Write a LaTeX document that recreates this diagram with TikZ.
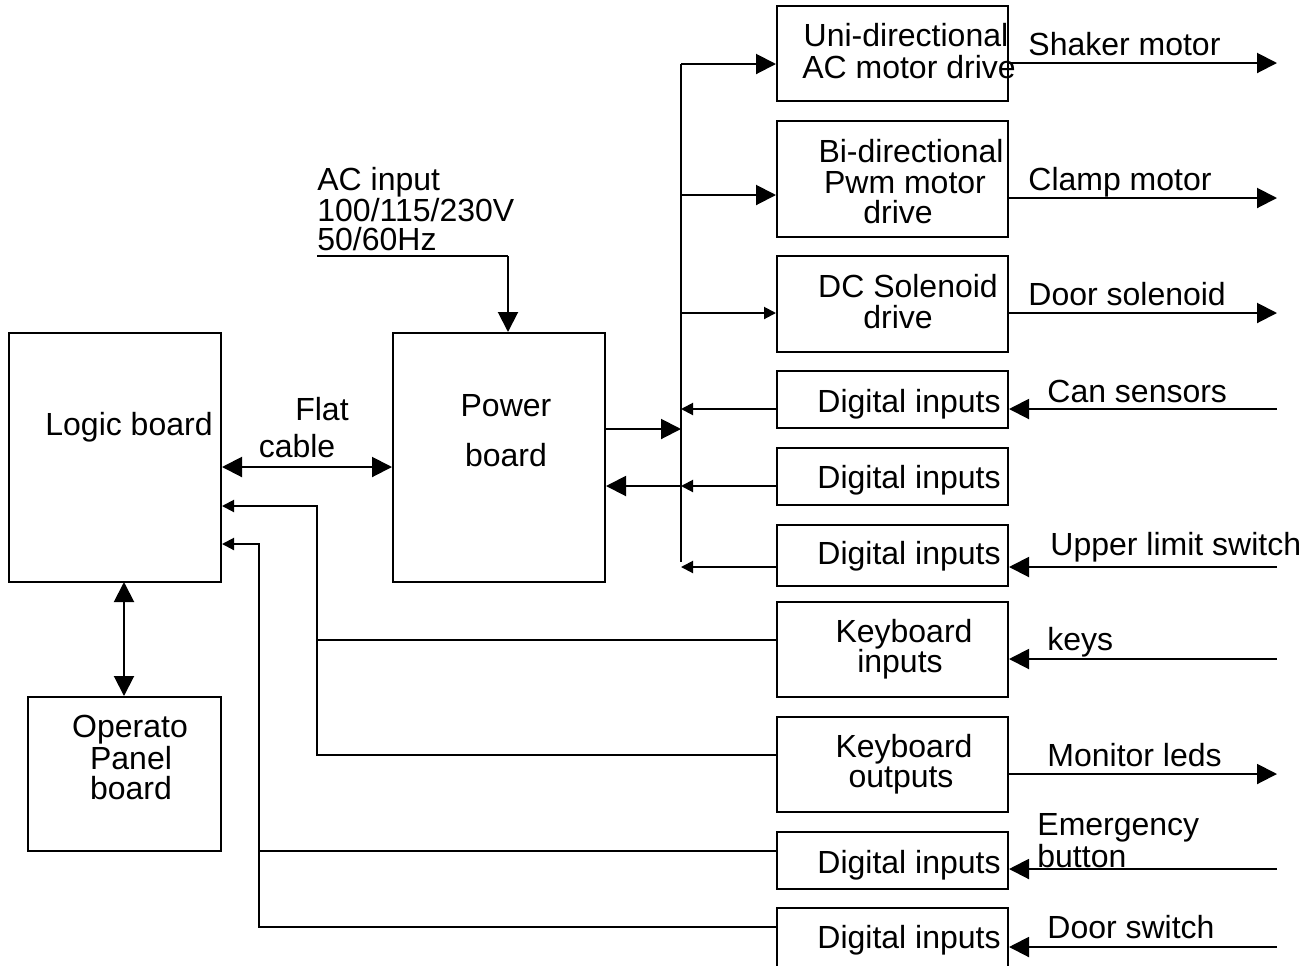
\documentclass[tikz,border=0pt]{standalone}
\usepackage{fontspec}
\setmainfont{Liberation Sans}
\usetikzlibrary{arrows.meta,fit}
\begin{document}
\begin{tikzpicture}[x=0.5pt,y=-0.5pt,
  box/.style={draw, line width=1pt, inner sep=0pt},
  txt/.style={inner sep=0pt, anchor=base, font=\fontsize{16}{18}\selectfont},
  ltxt/.style={txt, anchor=base west},
  wire/.style={line width=1pt},
  bigar/.style={wire, -{Triangle[length=10pt,width=10pt]}},
  smallar/.style={wire, -{Triangle[length=6pt,width=6pt]}},
  dblar/.style={wire, {Triangle[length=10pt,width=10pt]}-{Triangle[length=10pt,width=10pt]}}]
\path[fill=white, use as bounding box] (0,0) rectangle (1313,965);

% boxes
\node[box, fit={(9,333) (221,582)}] (logic) {};
\node[box, fit={(393,333) (605,582)}] (power) {};
\node[box, fit={(28,697) (221,851)}] (panel) {};
\node[box, fit={(777,6) (1008,101)}] (uni) {};
\node[box, fit={(777,121) (1008,237)}] (bi) {};
\node[box, fit={(777,256) (1008,352)}] (dcs) {};
\node[box, fit={(777,371) (1008,428)}] (dia) {};
\node[box, fit={(777,448) (1008,505)}] (dib) {};
\node[box, fit={(777,525) (1008,586)}] (dic) {};
\node[box, fit={(777,602) (1008,697)}] (kbi) {};
\node[box, fit={(777,717) (1008,812)}] (kbo) {};
\node[box, fit={(777,832) (1008,889)}] (did) {};
\node[box, fit={(777,908) (1008,985)}] (die) {};

% texts in boxes
\node[txt] (tlogic) at (129,435) {Logic board};
\node[txt] (tpow1) at (506,416) {Power};
\node[txt] (tpow2) at (506,466) {board};
\node[txt] (tpan1) at (130,737) {Operato};
\node[txt] (tpan2) at (131,769) {Panel};
\node[txt] (tpan3) at (131,799) {board};
\node[txt] (tuni1) at (906,46) {Uni-directional};
\node[txt] (tuni2) at (909,78) {AC motor drive};
\node[txt] (tbi1) at (911,162) {Bi-directional};
\node[txt] (tbi2) at (905,193) {Pwm motor};
\node[txt] (tbi3) at (898,223) {drive};
\node[txt] (tdc1) at (908,297) {DC Solenoid};
\node[txt] (tdc2) at (898,328) {drive};
\node[txt] (tdia) at (909,412) {Digital inputs};
\node[txt] (tdib) at (909,488) {Digital inputs};
\node[txt] (tdic) at (909,564) {Digital inputs};
\node[txt] (tkbi1) at (904,642) {Keyboard};
\node[txt] (tkbi2) at (900,672) {inputs};
\node[txt] (tkbo1) at (904,757) {Keyboard};
\node[txt] (tkbo2) at (901,787) {outputs};
\node[txt] (tdid) at (909,873) {Digital inputs};
\node[txt] (tdie) at (909,948) {Digital inputs};

% free labels
\node[txt] (tflat) at (322,420) {Flat};
\node[txt] (tcable) at (297,457) {cable};
\node[ltxt] (tac1) at (317,190) {AC input};
\node[ltxt] (tac2) at (317,221) {100/115/230V};
\node[ltxt] (tac3) at (317,250) {50/60Hz};
\node[ltxt] (lshaker) at (1028,55) {Shaker motor};
\node[ltxt] (lclamp) at (1028,190) {Clamp motor};
\node[ltxt] (ldoorsol) at (1028,305) {Door solenoid};
\node[ltxt] (lcan) at (1047,402) {Can sensors};
\node[ltxt] (lupper) at (1050,555) {Upper limit switch};
\node[ltxt] (lkeys) at (1047,650) {keys};
\node[ltxt] (lmon) at (1047,766) {Monitor leds};
\node[ltxt] (lemg1) at (1037,835) {Emergency};
\node[ltxt] (lemg2) at (1037,867) {button};
\node[ltxt] (ldoorsw) at (1047,938) {Door switch};

% bus
\coordinate (busT) at (681,64);
\coordinate (busB) at (681,562);
\coordinate (b2) at (681,195);
\coordinate (b3) at (681,313);
\coordinate (b4) at (681,409);
\coordinate (b5) at (681,486);
\coordinate (b6) at (681,567);
\coordinate (bp) at (681,429);
\draw[wire] (busT) -- (busB);
\draw[bigar] (busT) -- (busT -| uni.west);
\draw[bigar] (b2) -- (b2 -| bi.west);
\draw[smallar] (b3) -- (b3 -| dcs.west);
\draw[smallar] (b4 -| dia.west) -- (b4);
\draw[smallar] (b5 -| dib.west) -- (b5);
\draw[bigar] (b5) -- (b5 -| power.east);
\draw[smallar] (b6 -| dic.west) -- (b6);
\draw[bigar] (bp -| power.east) -- (bp);

% flat cable
\coordinate (fc) at (300,467);
\draw[dblar] (fc -| logic.east) -- (fc -| power.west);

% logic <-> panel
\draw[dblar] (124,582) coordinate (lp1) -- (lp1 |- panel.north);

% AC input
\coordinate (acL) at (317,256);
\coordinate (acR) at (508,256);
\draw[wire] (acL) -- (acR);
\draw[bigar] (acR) -- (acR |- power.north);

% keyboard feedback to logic
\coordinate (k1) at (317,640);
\coordinate (k2) at (317,755);
\coordinate (k3) at (317,506);
\draw[smallar] (k1 -| kbi.west) -- (k1) -- (k3) -- (k3 -| logic.east);
\draw[wire] (k2 -| kbo.west) -- (k2) -- (k1);

% digital inputs to logic
\coordinate (d1) at (259,851);
\coordinate (d2) at (259,927);
\coordinate (d3) at (259,544);
\draw[smallar] (d1 -| did.west) -- (d1) -- (d3) -- (d3 -| logic.east);
\draw[wire] (d2 -| die.west) -- (d2) -- (d1);

% right outputs
\coordinate (o1) at (1277,63);
\coordinate (o2) at (1277,198);
\coordinate (o3) at (1277,313);
\coordinate (o4) at (1277,774);
\draw[bigar] (o1 -| uni.east) -- (o1);
\draw[bigar] (o2 -| bi.east) -- (o2);
\draw[bigar] (o3 -| dcs.east) -- (o3);
\draw[bigar] (o4 -| kbo.east) -- (o4);

% right inputs
\coordinate (i1) at (1277,409);
\coordinate (i2) at (1277,567);
\coordinate (i3) at (1277,659);
\coordinate (i4) at (1277,869);
\coordinate (i5) at (1277,947);
\draw[bigar] (i1) -- (i1 -| dia.east);
\draw[bigar] (i2) -- (i2 -| dic.east);
\draw[bigar] (i3) -- (i3 -| kbi.east);
\draw[bigar] (i4) -- (i4 -| did.east);
\draw[bigar] (i5) -- (i5 -| die.east);
\end{tikzpicture}
\end{document}
